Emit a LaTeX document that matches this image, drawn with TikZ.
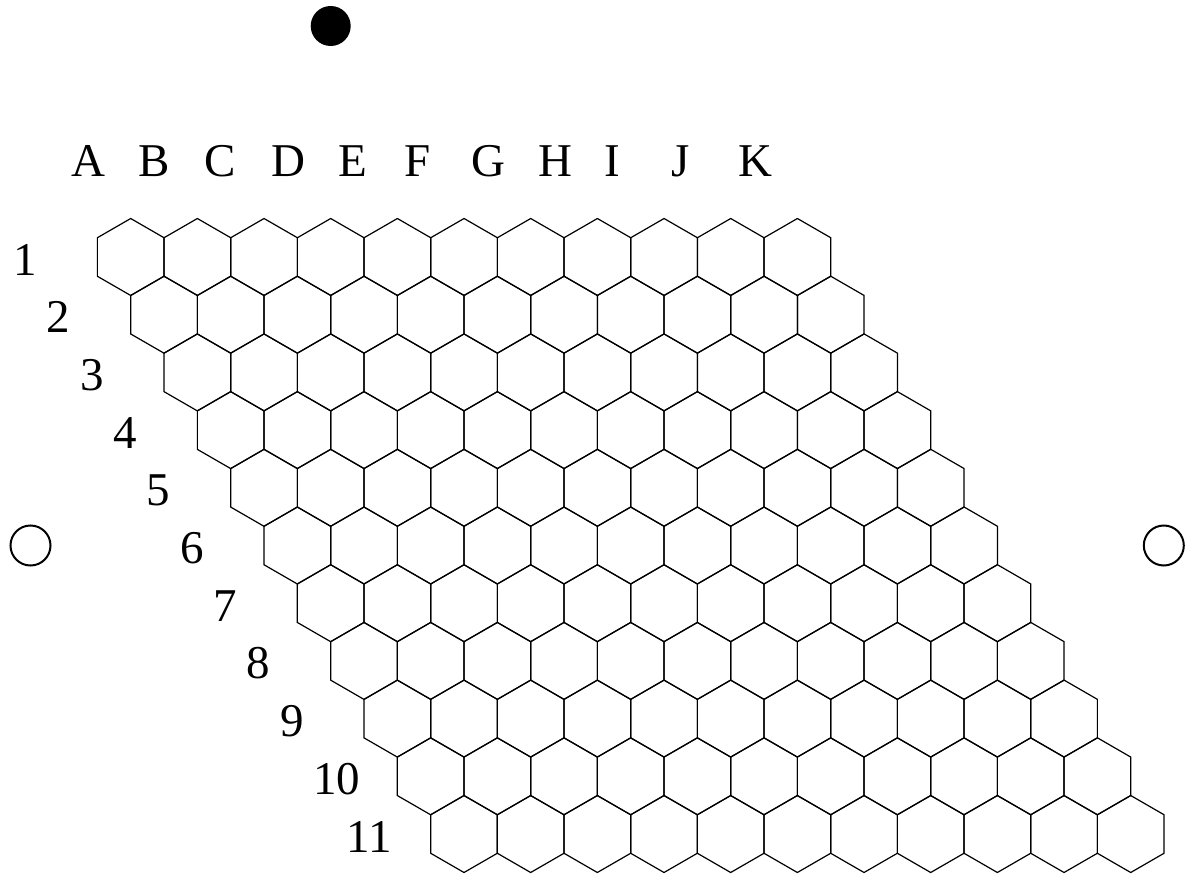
\documentclass[tikz,border=0pt]{standalone}
\usepackage{fontspec}
\setmainfont{Liberation Serif}
\begin{document}
\begin{tikzpicture}[x=0.5pt, y=-0.5pt,
    cell/.style={draw, line width=0.6pt, line join=miter},
    boardlabel/.style={font=\fontsize{23.5}{28}\selectfont, inner sep=0pt, anchor=base west},
    stone/.style={circle, minimum size=20pt, inner sep=0pt}
]
    \useasboundingbox (0,0) rectangle (1193,877);

    % hex cells, 11 x 11
    \foreach \r in {0,...,10}
      \foreach \c in {0,...,10}
        \draw[cell] ({130.7+66.67*\c+33.33*\r},{257+57.7*\r})
          +(90:38.5) -- +(30:38.5) -- +(-30:38.5) -- +(-90:38.5)
          -- +(-150:38.5) -- +(150:38.5) -- cycle;

    % column letters and row numbers
    \foreach \l [count=\i from 0] in {A,...,K}
      \node[boardlabel] (col\l) at ({71+66.67*\i},177) {\l};
    \foreach \n in {1,...,11}
      \node[boardlabel] (row\n) at ({13+33.33*(\n-1)},{275+57.7*(\n-1)}) {\n};

    % side markers
    \node[stone, fill=black] (black) at (330.7,26) {};
    \node[stone, draw, line width=1pt] (whiteW) at (30.5,545.5) {};
    \node[stone, draw, line width=1pt] (whiteE) at (1163.8,545.5) {};
\end{tikzpicture}
\end{document}
